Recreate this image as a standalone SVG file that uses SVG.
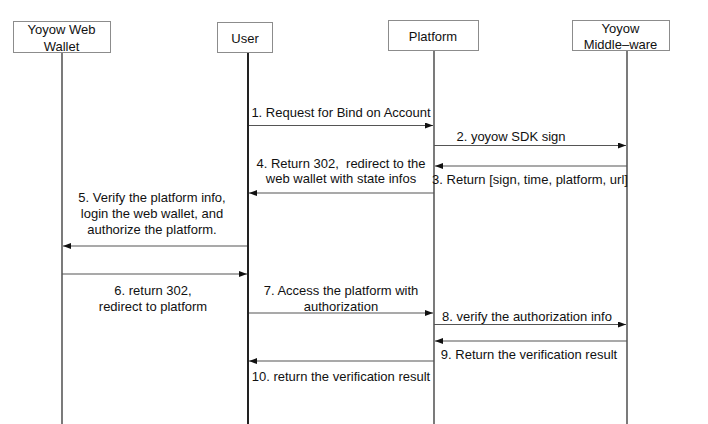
<svg xmlns="http://www.w3.org/2000/svg" width="708" height="424" viewBox="0 0 708 424">
<style>
.box{fill:#fff;stroke:#8c8c8c;stroke-width:1}
.life{stroke:#222;stroke-width:1.2;fill:none}
.msg{stroke:#555;stroke-width:1.2;fill:none;marker-end:url(#ah)}
text{font-family:"Liberation Sans",Arial,sans-serif;font-size:13px;fill:#111;text-anchor:middle}
</style>
<defs>
<marker id="ah" viewBox="0 0 8 6" refX="8" refY="3" markerWidth="8" markerHeight="6" markerUnits="userSpaceOnUse" orient="auto">
<path d="M0,0 L8,3 L0,6 z" fill="#111"/>
</marker>
</defs>
<rect width="708" height="424" fill="#fff"/>
<g id="lifelines">
<line class="life" x1="62" y1="52" x2="62" y2="424"/>
<line class="life" x1="248" y1="52" x2="248" y2="424" style="stroke-width:2"/>
<line class="life" x1="434" y1="50" x2="434" y2="424"/>
<line class="life" x1="627" y1="50" x2="627" y2="424"/>
</g>
<g id="wallet">
<rect class="box" x="13.5" y="21.5" width="97" height="31"/>
<text x="61.5" y="33.5">Yoyow Web</text>
<text x="61.5" y="50.5">Wallet</text>
</g>
<g id="user">
<rect class="box" x="217.5" y="22.5" width="55" height="30"/>
<text x="245" y="42.5">User</text>
</g>
<g id="platform">
<rect class="box" x="388.5" y="20.5" width="90" height="30"/>
<text x="433" y="40.5">Platform</text>
</g>
<g id="middleware">
<rect class="box" x="572.5" y="20.5" width="97" height="30"/>
<text x="620.5" y="32.5">Yoyow</text>
<text x="620.5" y="48.5">Middle–ware</text>
</g>
<g id="connectors">
<line class="msg" x1="249" y1="125.5" x2="433" y2="125.5"/>
<line class="msg" x1="434" y1="145.5" x2="626" y2="145.5"/>
<line class="msg" x1="627" y1="166" x2="435" y2="166"/>
<line class="msg" x1="434" y1="193" x2="249" y2="193"/>
<line class="msg" x1="247" y1="246" x2="63" y2="246"/>
<line class="msg" x1="62" y1="274" x2="247" y2="274"/>
<line class="msg" x1="249" y1="313" x2="433" y2="313"/>
<line class="msg" x1="434" y1="324.5" x2="626" y2="324.5"/>
<line class="msg" x1="627" y1="341" x2="435" y2="341"/>
<line class="msg" x1="434" y1="361" x2="249" y2="361"/>
</g>
<g id="labels">
<text x="341" y="116.5">1. Request for Bind on Account</text>
<text x="511" y="140.5">2. yoyow SDK sign</text>
<text x="530" y="183.5">3. Return [sign, time, platform, url]</text>
<text x="341" y="167.5" xml:space="preserve">4. Return 302,  redirect to the</text>
<text x="341" y="182.5">web wallet with state infos</text>
<text x="152" y="201.5">5. Verify the platform info,</text>
<text x="152" y="217.5">login the web wallet, and</text>
<text x="152" y="233.5">authorize the platform.</text>
<text x="153" y="294.5">6. return 302,</text>
<text x="153" y="310.5">redirect to platform</text>
<text x="341" y="294.5">7. Access the platform with</text>
<text x="341" y="310.5">authorization</text>
<text x="527" y="320.5">8. verify the authorization info</text>
<text x="529" y="358.5">9. Return the verification result</text>
<text x="341" y="380.5">10. return the verification result</text>
</g>
</svg>
